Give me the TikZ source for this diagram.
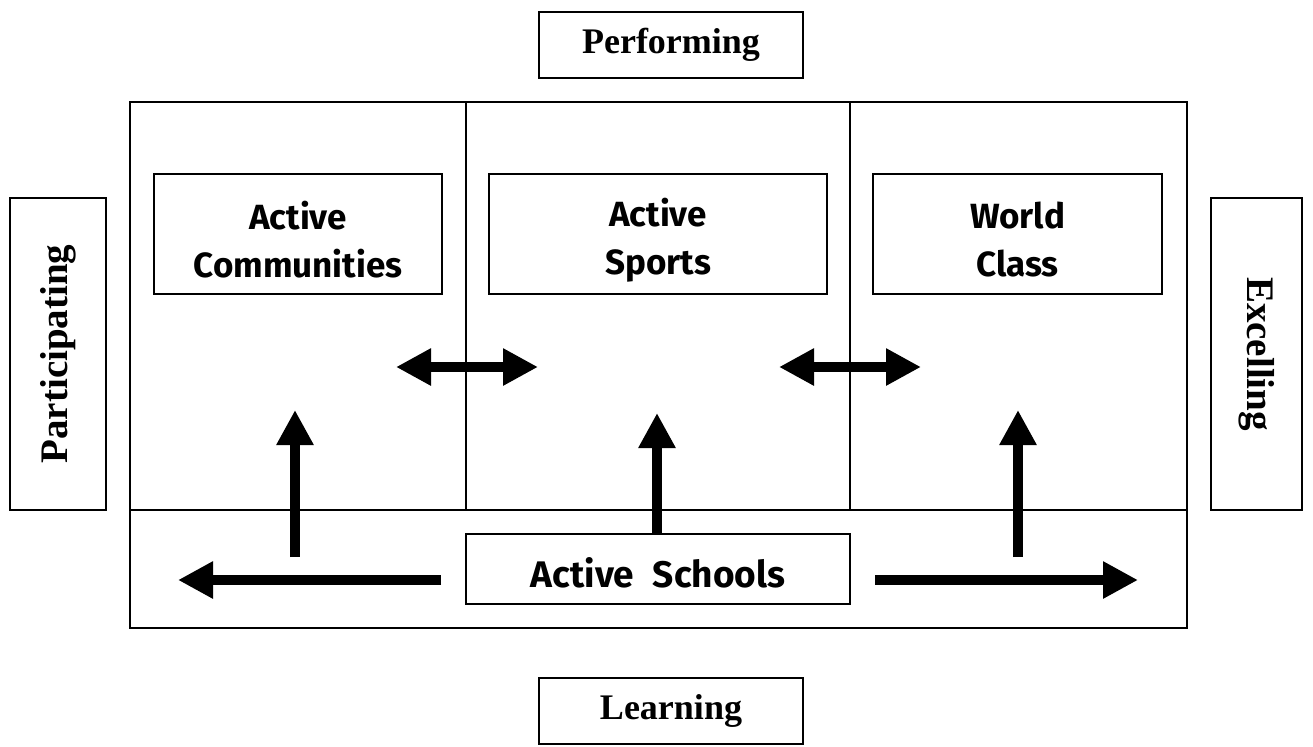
\documentclass[tikz,border=0pt]{standalone}
\usepackage{fontspec}
\setmainfont{Liberation Serif}
\newfontfamily\comicfont{Fira Sans}
\usetikzlibrary{arrows.meta}

\begin{document}
\begin{tikzpicture}[x=0.5pt, y=-0.5pt,
    frame/.style={draw, line width=0.8pt, inner sep=0pt},
    side/.style={frame, font=\fontsize{18}{20}\selectfont\bfseries},
    upright/.style={frame, font=\fontsize{19.5}{22}\selectfont\bfseries},
    area/.style={frame},
    areatext/.style={align=center, inner sep=0pt, yshift=-3pt, font=\comicfont\fontsize{17.5}{24}\selectfont\bfseries},
    bigarrow/.style={line width=5pt, -{Triangle[length=17.5pt, width=17.5pt]}},
    botharrow/.style={line width=5pt, {Triangle[length=17.5pt, width=17.5pt]}-{Triangle[length=17.5pt, width=17.5pt]}}]
  \useasboundingbox (0,0) rectangle (1313,746);
  % outer frame
  \draw[line width=0.8pt] (130,102) rectangle (1187,628);
  \draw[line width=0.8pt] (130,510) -- (1187,510);
  \draw[line width=0.8pt] (466,102) -- (466,510);
  \draw[line width=0.8pt] (850,102) -- (850,510);
  % side labels
  \node[side, minimum width=132pt, minimum height=33pt] (perf) at (671,45) {Performing};
  \node[side, minimum width=132pt, minimum height=33pt] (learn) at (671,711) {Learning};
  \node[upright, rotate=90, minimum width=156pt, minimum height=48pt] (part) at (58,354) {Participating};
  \node[upright, rotate=-90, minimum width=156pt, minimum height=45.5pt] (excel) at (1256.5,354) {Excelling};
  % inner boxes
  \node[area, minimum width=144pt, minimum height=60pt,
    label={[areatext]center:Active\\Communities}] (comm) at (298,234) {};
  \node[area, minimum width=169pt, minimum height=60pt,
    label={[areatext]center:Active\\Sports}] (sports) at (658,234) {};
  \node[area, minimum width=144.5pt, minimum height=60pt,
    label={[areatext]center:World\\Class}] (world) at (1017.5,234) {};
  \node[area, minimum width=192pt, minimum height=35pt,
    label={[areatext, yshift=1pt, font=\comicfont\fontsize{18.5}{24}\selectfont\bfseries]center:Active\hspace{5pt} Schools}] (schools) at (658,569) {};
  % arrow ends
  \coordinate (dl1) at (396,367);
  \coordinate (dr1) at (538,367);
  \coordinate (dl2) at (779,367);
  \coordinate (dr2) at (921,367);
  \coordinate (upA0) at (295,557);
  \coordinate (upA1) at (295,410);
  \coordinate (upB1) at (657,413);
  \coordinate (upC0) at (1018,557);
  \coordinate (upC1) at (1018,410);
  \coordinate (left0) at (441,580);
  \coordinate (left1) at (178,580);
  \coordinate (right0) at (875,580);
  \coordinate (right1) at (1138,580);
  % arrows
  \draw[botharrow] (dl1) -- (dr1);
  \draw[botharrow] (dl2) -- (dr2);
  \draw[bigarrow] (upA0) -- (upA1);
  \draw[bigarrow] (schools.north -| upB1) -- (upB1);
  \draw[bigarrow] (upC0) -- (upC1);
  \draw[bigarrow] (left0) -- (left1);
  \draw[bigarrow] (right0) -- (right1);
\end{tikzpicture}
\end{document}
